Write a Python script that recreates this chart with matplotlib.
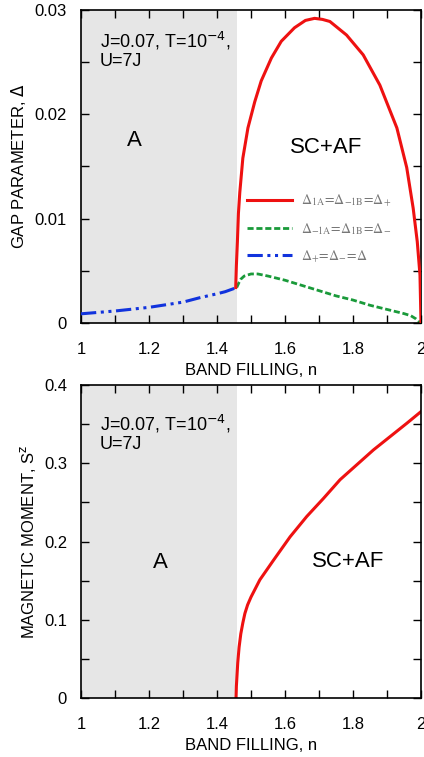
import matplotlib
matplotlib.use("Agg")
import matplotlib.pyplot as plt
from matplotlib.font_manager import FontProperties
from matplotlib.ticker import MultipleLocator

plt.rcParams['font.family'] = ['Liberation Sans', 'DejaVu Sans']

boundary_n = 1.458

# Delta_+ (red)
n_plus = [1.455, 1.457, 1.460, 1.463, 1.467, 1.476, 1.491, 1.511, 1.530, 1.560, 1.589, 1.628, 1.66, 1.687,
          1.71, 1.732, 1.781, 1.830, 1.879, 1.929, 1.958, 1.977, 1.989, 1.997, 2.0]
d_plus = [0.0034, 0.0055, 0.0078, 0.0105, 0.0125, 0.0158, 0.0187, 0.0212, 0.0232, 0.0254, 0.0270, 0.0283,
          0.0290, 0.0292, 0.0291, 0.0289, 0.0276, 0.0257, 0.0228, 0.0187, 0.0149, 0.0110, 0.0078, 0.0046, 0.0]

# Delta_- (green)
n_minus = [1.458, 1.465, 1.47, 1.48, 1.49, 1.50, 1.52, 1.55, 1.60, 1.65, 1.70, 1.75, 1.80, 1.85, 1.90,
           1.95, 1.97, 1.985, 1.995, 2.0]
d_minus = [0.0034, 0.0039, 0.0042, 0.0045, 0.0046, 0.0047, 0.0047, 0.0045, 0.0041, 0.0036, 0.0031, 0.0026,
           0.0022, 0.0017, 0.0013, 0.0009, 0.0007, 0.0004, 0.0001, 0.0]

# Delta (blue), phase A
n_a = [1.0, 1.1, 1.2, 1.3, 1.35, 1.4, 1.424, 1.458]
d_a = [0.00088, 0.00115, 0.0015, 0.0020, 0.00243, 0.0028, 0.0030, 0.0034]

# Magnetic moment
n_m = [1.456, 1.457, 1.459, 1.461, 1.465, 1.470, 1.476, 1.482, 1.490, 1.500, 1.526, 1.566, 1.615, 1.664,
       1.713, 1.762, 1.811, 1.860, 1.909, 1.958, 2.0]
s_m = [0.0, 0.015, 0.030, 0.045, 0.065, 0.082, 0.096, 0.108, 0.119, 0.129, 0.151, 0.176, 0.206, 0.232,
       0.255, 0.279, 0.298, 0.317, 0.334, 0.351, 0.366]

fig = plt.figure(figsize=(4.24, 7.57), dpi=100)
ax1 = fig.add_axes([81/424, 1-323/757, 340/424, 313/757])
ax2 = fig.add_axes([81/424, 1-698/757, 340/424, 313/757])

for ax in (ax1, ax2):
    ax.axvspan(1.0, boundary_n, color='#e6e6e6', lw=0, zorder=0)
    ax.set_xlim(1, 2)
    ax.xaxis.set_major_locator(MultipleLocator(0.2))
    ax.xaxis.set_minor_locator(MultipleLocator(0.1))
    ax.tick_params(which='both', direction='in', top=True, right=True, labelsize=12)
    ax.tick_params(which='both', length=6, width=1)
    ax.tick_params(axis='x', pad=14)
    ax.tick_params(axis='y', pad=10)
    for s in ax.spines.values():
        s.set_linewidth(1.2)
    ax.xaxis.set_major_formatter(plt.FuncFormatter(lambda v, p: ('%g' % round(v, 3))))
    ax.yaxis.set_major_formatter(plt.FuncFormatter(lambda v, p: ('%g' % round(v, 4))))
    ax.set_xlabel('BAND FILLING, n', fontsize=12, labelpad=4)

# top panel
ax1.set_ylim(0, 0.03)
ax1.yaxis.set_major_locator(MultipleLocator(0.01))
ax1.yaxis.set_minor_locator(MultipleLocator(0.005))
ax1.plot(n_plus, d_plus, color='#ee1111', lw=2.2, label=r'$\Delta_{1\mathrm{A}}\!=\!\Delta_{-1\mathrm{B}}\!=\!\Delta_{+}$', zorder=3)
ax1.plot(n_minus, d_minus, color='#1a9a3a', lw=2.0, ls=(0, (2.2, 1.0)), label=r'$\Delta_{-1\mathrm{A}}\!=\!\Delta_{1\mathrm{B}}\!=\!\Delta_{-}$', zorder=2)
ax1.plot(n_a, d_a, color='#1133dd', lw=2.2, ls=(0, (5, 1.5, 1, 1.5, 1, 1.5)), label=r'$\Delta_{+}\!=\!\Delta_{-}\!=\!\Delta$', zorder=3)
ax1.set_ylabel(r'GAP PARAMETER, $\Delta$', fontsize=12, labelpad=4.5)
ax1.text(1.055, 0.0281, 'J=0.07, T=10$^{\\mathsf{-4}}$,\nU=7J', fontsize=13, va='top', ha='left', linespacing=1.05)
ax1.text(1.158, 0.0175, 'A', fontsize=16, ha='center', va='center')
ax1.text(1.72, 0.0168, 'SC+AF', fontsize=16, ha='center', va='center')
leg = ax1.legend(loc='upper left', bbox_to_anchor=(0.45, 0.455), frameon=False, handlelength=3.3,
                 handletextpad=0.6, labelspacing=0.85,
                 prop=FontProperties(family='serif', size=10, math_fontfamily='stix'))
for t in leg.get_texts():
    t.set_color('#777777')

# bottom panel
ax2.set_ylim(0, 0.4)
ax2.yaxis.set_major_locator(MultipleLocator(0.1))
ax2.yaxis.set_minor_locator(MultipleLocator(0.05))
ax2.plot(n_m, s_m, color='#ee1111', lw=2.2)
ax2.set_ylabel(r'MAGNETIC MOMENT, S$^\mathsf{z}$', fontsize=12, labelpad=4.5)
ax2.text(1.055, 0.3645, 'J=0.07, T=10$^{\\mathsf{-4}}$,\nU=7J', fontsize=13, va='top', ha='left', linespacing=1.05)
ax2.text(1.233, 0.173, 'A', fontsize=16, ha='center', va='center')
ax2.text(1.786, 0.175, 'SC+AF', fontsize=16, ha='center', va='center')

fig.savefig('out.png', dpi=100)
